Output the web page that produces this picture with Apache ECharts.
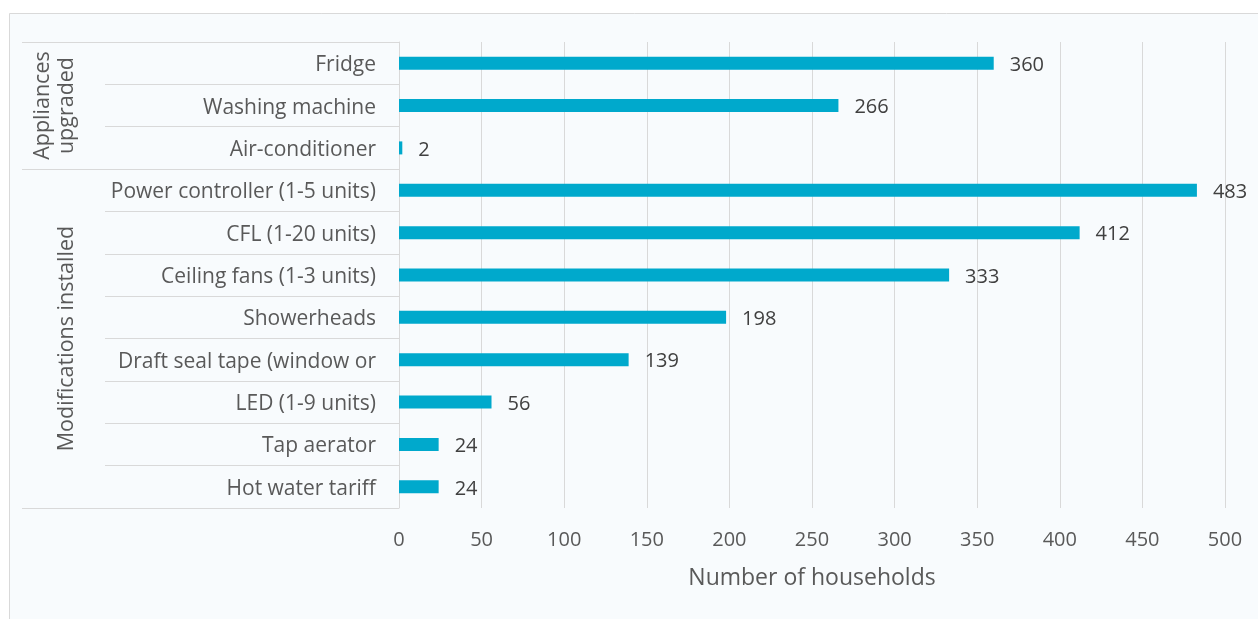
<!DOCTYPE html>
<html>
<head>
<meta charset="utf-8">
<script src="https://cdn.jsdelivr.net/npm/echarts@6/dist/echarts.min.js"></script>
<style>
html,body{margin:0;padding:0;background:#ffffff;}
#chart{width:1258px;height:619px;}
</style>
</head>
<body>
<div id="chart"></div>
<script>
const categories = [
  'Fridge', 'Washing machine', 'Air-conditioner',
  'Power controller (1-5 units)', 'CFL (1-20 units)', 'Ceiling fans (1-3 units)',
  'Showerheads', 'Draft seal tape (window or', 'LED (1-9 units)', 'Tap aerator', 'Hot water tariff'
];
const households = [360, 266, 2, 483, 412, 333, 198, 139, 56, 24, 24];
const groupNames = ['Appliances\nupgraded', 'Modifications installed'];
const groupSizes = [3, 8];
const xTicks = [0, 50, 100, 150, 200, 250, 300, 350, 400, 450, 500];

const FONT = '"Open Sans", Lato, sans-serif';
const total = groupSizes.reduce((a, b) => a + b, 0);
const groupBounds = [0];
groupSizes.forEach(s => groupBounds.push(groupBounds[groupBounds.length - 1] + s));
const groupCenters = groupSizes.map((s, i) => groupBounds[i] + s / 2);

const chart = echarts.init(document.getElementById('chart'), null, {renderer: 'canvas'});
chart.setOption({
  backgroundColor: '#ffffff',
  animation: false,
  graphic: [{
    type: 'rect', z: -10, silent: true,
    shape: {x: 9.5, y: 13.5, width: 1260, height: 620},
    style: {fill: '#f8fbfd', stroke: '#d9d9d9', lineWidth: 1}
  }],
  grid: {left: 399, right: 33, top: 42, bottom: 111, containLabel: false},
  xAxis: {
    type: 'value', min: xTicks[0], max: xTicks[xTicks.length - 1], interval: 50,
    axisLine: {show: false}, axisTick: {show: false},
    splitLine: {show: true, lineStyle: {color: '#d9d9d9', width: 1}},
    axisLabel: {color: '#595959', fontSize: 20, fontFamily: FONT, margin: 22},
    name: 'Number of households', nameLocation: 'middle', nameGap: 59,
    nameTextStyle: {color: '#595959', fontSize: 23, fontFamily: FONT}
  },
  yAxis: [{
    type: 'category', data: categories, inverse: true,
    axisLine: {show: true, lineStyle: {color: '#d9d9d9', width: 1}},
    axisTick: {show: true, length: 294, interval: 0, lineStyle: {color: '#d9d9d9', width: 1}},
    axisLabel: {
      color: '#595959', fontSize: 21, fontFamily: FONT, margin: 23, interval: 0,
      formatter: function (v) { return '{t|' + v + '}'; },
      rich: {t: {color: '#595959', fontSize: 21, fontFamily: FONT, padding: [4, 0, 0, 0]}}
    },
    splitLine: {show: false}
  }, {
    type: 'value', min: 0, max: total, inverse: true, position: 'left',
    axisLine: {show: false},
    axisTick: {show: true, length: 377, customValues: groupBounds, lineStyle: {color: '#d9d9d9', width: 1}},
    axisLabel: {
      show: true, customValues: groupCenters, rotate: 90, margin: 320,
      color: '#595959', fontSize: 21.5, fontFamily: FONT, lineHeight: 24,
      formatter: function (v) {
        const i = groupCenters.indexOf(v);
        return i >= 0 ? groupNames[i] : '';
      }
    },
    splitLine: {show: false}
  }],
  series: [{
    type: 'bar', yAxisIndex: 0, data: households, barWidth: 13,
    itemStyle: {color: '#00a9cc'},
    label: {show: true, position: 'right', distance: 16, offset: [0, 2], color: '#404040', fontSize: 20, fontFamily: FONT}
  }]
});
</script>
</body>
</html>
